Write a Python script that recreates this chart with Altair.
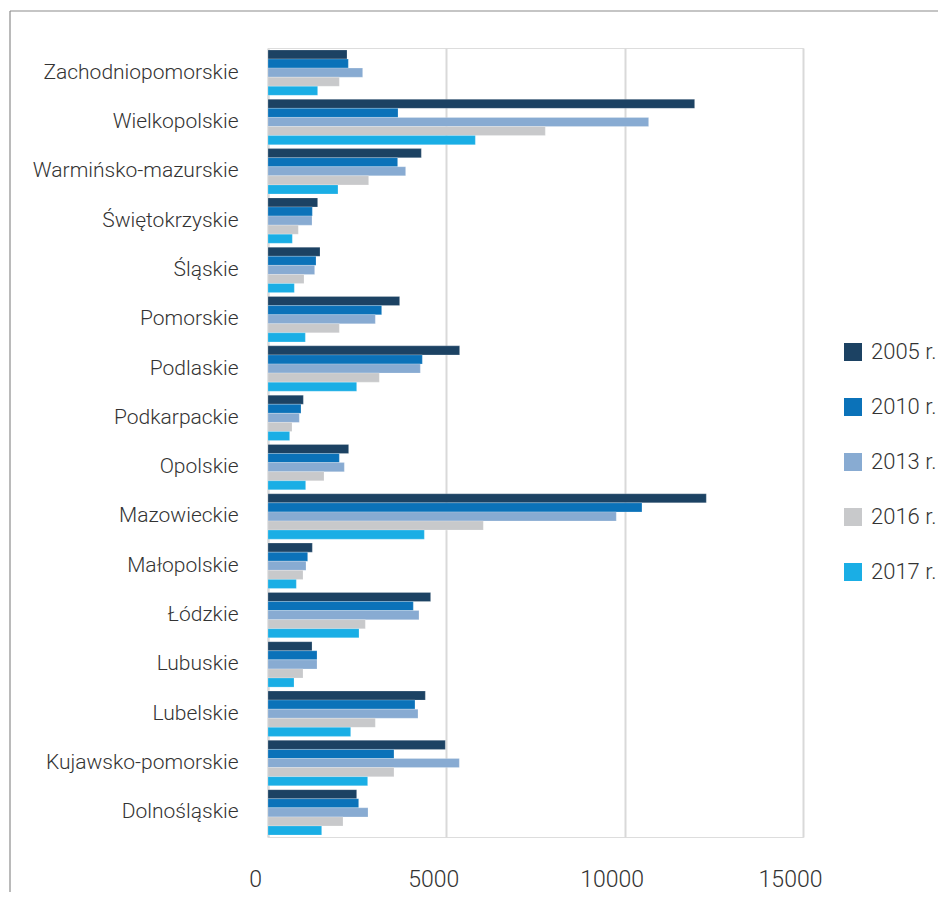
import altair as alt
import pandas as pd

regions = ["Zachodniopomorskie", "Wielkopolskie", "Warmińsko-mazurskie", "Świętokrzyskie",
           "Śląskie", "Pomorskie", "Podlaskie", "Podkarpackie", "Opolskie", "Mazowieckie",
           "Małopolskie", "Łódzkie", "Lubuskie", "Lubelskie", "Kujawsko-pomorskie", "Dolnośląskie"]
years = ["2005 r.", "2010 r.", "2013 r.", "2016 r.", "2017 r."]
colors = ["#1c4263", "#0b72b9", "#88abd2", "#c8c9cb", "#1aaee5"]

v2005 = [2215, 11962, 4299, 1392, 1458, 3691, 5373, 991, 2261, 12289, 1243, 4560, 1234, 4411, 4972, 2486]
v2010 = [2252, 3645, 3635, 1243, 1346, 3187, 4327, 925, 2000, 10485, 1112, 4074, 1374, 4121, 3532, 2542]
v2013 = [2654, 10672, 3859, 1234, 1308, 3009, 4271, 878, 2140, 9765, 1065, 4233, 1374, 4205, 5364, 2804]
v2016 = [2000, 7775, 2822, 850, 1009, 2000, 3121, 673, 1570, 6037, 981, 2729, 981, 3009, 3532, 2103]
v2017 = [1392, 5813, 1962, 682, 738, 1047, 2486, 607, 1056, 4383, 794, 2551, 729, 2318, 2794, 1505]

series = [v2005, v2010, v2013, v2016, v2017]
rows = []
for yr, vals in zip(years, series):
    for reg, v in zip(regions, vals):
        rows.append({"region": reg, "year": yr, "value": v})
df = pd.DataFrame(rows)

FONT = "Roboto"
FW = 300
TXT = "#333333"

bars = alt.Chart(df).mark_bar(stroke="#ffffff", strokeOpacity=0.35, strokeWidth=0.6).encode(
    y=alt.Y("region:N", sort=regions,
            scale=alt.Scale(paddingInner=0.08, paddingOuter=0.04),
            axis=alt.Axis(title=None, ticks=False, domain=True, domainColor="#d9d9d9",
                          domainWidth=2, grid=False, labelFont=FONT, labelFontSize=21,
                          labelFontWeight=FW, labelColor=TXT, labelPadding=30, labelLimit=400)),
    yOffset=alt.YOffset("year:N", sort=years, scale=alt.Scale(paddingInner=0, paddingOuter=0)),
    x=alt.X("value:Q", scale=alt.Scale(domain=[0, 15000], nice=False),
            axis=alt.Axis(title=None, values=[0, 5000, 10000, 15000], format="d",
                          grid=True, gridColor="#d9d9d9", gridWidth=2, domain=False,
                          ticks=False, labelFont=FONT, labelFontSize=23, labelFontWeight=FW,
                          labelColor=TXT, labelOffset=-13, labelPadding=31,
                          labelFlush=False)),
    color=alt.Color("year:N", sort=years,
                    scale=alt.Scale(domain=years, range=colors),
                    legend=alt.Legend(title=None, orient="none", legendX=574, legendY=293,
                                      symbolType="square", symbolSize=324,
                                      symbolStrokeWidth=0, labelFont=FONT,
                                      labelFontSize=22, labelFontWeight=FW, labelColor=TXT,
                                      labelOffset=7, rowPadding=33)),
)

frame_top = alt.Chart(pd.DataFrame({"a": [0]})).mark_rule(color="#8c8c8c", strokeWidth=1.2).encode(
    x=alt.value(-258), x2=alt.value(700), y=alt.value(-37))
frame_left = alt.Chart(pd.DataFrame({"a": [0]})).mark_rule(color="#8c8c8c", strokeWidth=1.2).encode(
    x=alt.value(-258), y=alt.value(-37), y2=alt.value(860))

chart = alt.layer(frame_top, frame_left, bars).properties(
    width=535, height=789,
    autosize=alt.AutoSizeParams(type="none"),
    padding={"left": 260, "top": 40, "right": 135, "bottom": 55},
).configure_view(stroke=None).configure(background="white")

chart.save("out.html", embed_options={"renderer": "svg", "actions": False})
